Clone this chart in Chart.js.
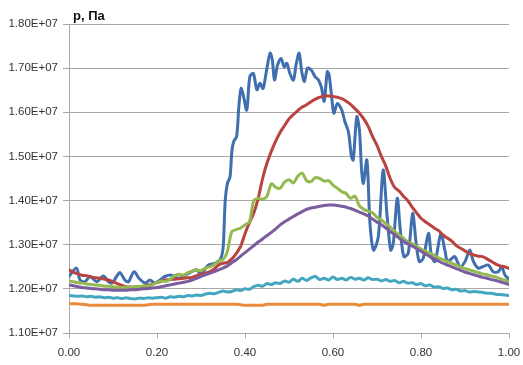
<!DOCTYPE html>
<html>
<head>
<meta charset="utf-8">
<script src="https://cdn.jsdelivr.net/npm/chart.js@4/dist/chart.umd.min.js"></script>
<style>
  html, body { margin: 0; padding: 0; background: #ffffff; }
  #wrap { width: 523px; height: 365px; position: relative; }
</style>
</head>
<body>
<div id="wrap"><canvas id="c" width="523" height="365"></canvas></div>
<script>
// Pressure profiles p (in units of 1E+06 Pa) along the relative coordinate 0..1
const axisTitle = "p, Па";
const xTickValues = [0, 0.2, 0.4, 0.6, 0.8, 1.0];
const yTickValues = [11, 12, 13, 14, 15, 16, 17, 18];

// Common grid for the smooth profiles, step 0.01
const gridX = Array.from({ length: 101 }, (_, i) => i / 100);

const redP = [
  12.43, 12.38, 12.34, 12.31, 12.30, 12.27, 12.25, 12.24, 12.22, 12.20,
  12.16, 12.12, 12.08, 12.05, 12.04, 12.04, 12.05, 12.06, 12.08, 12.11,
  12.14, 12.17, 12.20, 12.21, 12.22, 12.23, 12.24, 12.25, 12.26, 12.30,
  12.33, 12.36, 12.39, 12.45, 12.54, 12.58, 12.60, 12.68, 12.80, 12.96,
  13.25, 13.50, 13.72, 14.05, 14.50, 14.85, 15.12, 15.35, 15.55, 15.70,
  15.85, 15.95, 16.04, 16.12, 16.17, 16.24, 16.30, 16.34, 16.37, 16.37,
  16.36, 16.34, 16.31, 16.25, 16.18, 16.08, 15.98, 15.85, 15.68, 15.45,
  15.25, 15.00, 14.78, 14.50, 14.30, 14.22, 14.10, 14.00, 13.85, 13.72,
  13.60, 13.52, 13.45, 13.38, 13.32, 13.22, 13.15, 13.08, 12.98, 12.92,
  12.86, 12.80, 12.77, 12.74, 12.73, 12.68, 12.62, 12.56, 12.52, 12.50,
  12.46
];

const greenP = [
  12.18, 12.16, 12.14, 12.13, 12.11, 12.10, 12.09, 12.08, 12.06, 12.06,
  12.05, 12.04, 12.03, 12.04, 12.03, 12.05, 12.05, 12.07, 12.06, 12.10,
  12.14, 12.18, 12.17, 12.22, 12.30, 12.33, 12.31, 12.37, 12.40, 12.43,
  12.41, 12.47, 12.50, 12.55, 12.64, 12.66, 12.85, 13.30, 13.34, 13.38,
  13.45, 13.52, 14.00, 14.05, 14.03, 14.10, 14.38, 14.30, 14.28, 14.42,
  14.47, 14.40, 14.55, 14.62, 14.45, 14.43, 14.52, 14.50, 14.44, 14.45,
  14.35, 14.28, 14.20, 14.16, 14.05, 14.10, 13.88, 13.80, 13.76, 13.72,
  13.62, 13.56, 13.48, 13.40, 13.30, 13.22, 13.15, 13.06, 13.02, 12.96,
  12.90, 12.85, 12.81, 12.76, 12.70, 12.66, 12.62, 12.58, 12.54, 12.50,
  12.46, 12.43, 12.40, 12.37, 12.34, 12.32, 12.29, 12.27, 12.23, 12.20,
  12.16
];

const purpleP = [
  12.09, 12.07, 12.05, 12.03, 12.02, 12.01, 12.00, 11.99, 11.98, 11.98,
  11.97, 11.97, 11.97, 11.97, 11.98, 11.98, 11.99, 12.00, 12.01, 12.02,
  12.03, 12.05, 12.07, 12.09, 12.11, 12.13, 12.15, 12.17, 12.20, 12.24,
  12.28, 12.32, 12.35, 12.39, 12.43, 12.47, 12.52, 12.59, 12.66, 12.74,
  12.82, 12.90, 12.98, 13.06, 13.13, 13.21, 13.28, 13.36, 13.45, 13.52,
  13.58, 13.64, 13.70, 13.75, 13.80, 13.83, 13.85, 13.87, 13.89, 13.90,
  13.90, 13.89, 13.87, 13.85, 13.82, 13.78, 13.74, 13.70, 13.65, 13.58,
  13.51, 13.45, 13.38, 13.30, 13.23, 13.15, 13.08, 13.02, 12.97, 12.91,
  12.85, 12.79, 12.73, 12.68, 12.63, 12.58, 12.54, 12.50, 12.46, 12.42,
  12.38, 12.35, 12.32, 12.29, 12.26, 12.24, 12.21, 12.19, 12.16, 12.13,
  12.10
];

const tealP = [
  11.85, 11.84, 11.83, 11.84, 11.82, 11.83, 11.81, 11.82, 11.80, 11.81,
  11.79, 11.80, 11.78, 11.80, 11.78, 11.77, 11.79, 11.78, 11.80, 11.79,
  11.80, 11.81, 11.79, 11.82, 11.81, 11.83, 11.82, 11.85, 11.84, 11.86,
  11.85, 11.88, 11.90, 11.89, 11.92, 11.95, 11.93, 11.94, 11.98, 11.96,
  12.00, 11.99, 12.05, 12.08, 12.06, 12.12, 12.10, 12.14, 12.12, 12.18,
  12.15, 12.22, 12.17, 12.24, 12.19, 12.25, 12.28, 12.21, 12.24, 12.20,
  12.27, 12.21, 12.24, 12.20, 12.26, 12.22, 12.24, 12.20, 12.25, 12.21,
  12.22, 12.18, 12.21, 12.17, 12.19, 12.14, 12.17, 12.13, 12.14, 12.10,
  12.12, 12.07, 12.09, 12.04, 12.05, 12.01, 12.02, 11.98, 11.99, 11.95,
  11.96, 11.93, 11.94, 11.93, 11.92, 11.90, 11.90, 11.88, 11.87, 11.86,
  11.85
];

const orangeP = [
  11.66, 11.66, 11.66, 11.65, 11.64, 11.63, 11.63, 11.63, 11.63, 11.63,
  11.63, 11.63, 11.63, 11.63, 11.63, 11.63, 11.63, 11.63, 11.64, 11.65,
  11.65, 11.65, 11.65, 11.65, 11.65, 11.65, 11.65, 11.65, 11.65, 11.65,
  11.65, 11.65, 11.65, 11.65, 11.65, 11.65, 11.65, 11.65, 11.65, 11.64,
  11.63, 11.63, 11.63, 11.63, 11.63, 11.65, 11.65, 11.65, 11.65, 11.65,
  11.65, 11.65, 11.65, 11.65, 11.65, 11.65, 11.65, 11.65, 11.63, 11.65,
  11.65, 11.65, 11.65, 11.65, 11.65, 11.65, 11.63, 11.65, 11.65, 11.65,
  11.65, 11.65, 11.65, 11.65, 11.65, 11.65, 11.65, 11.65, 11.65, 11.65,
  11.65, 11.65, 11.65, 11.65, 11.65, 11.65, 11.65, 11.65, 11.65, 11.65,
  11.65, 11.65, 11.65, 11.65, 11.65, 11.65, 11.65, 11.65, 11.65, 11.65,
  11.65
];

// The strongly oscillating profile has its own, finer sampling
const blueX = [
  0.000, 0.017, 0.025, 0.036, 0.048, 0.063, 0.078, 0.090, 0.098, 0.108,
  0.116, 0.127, 0.135, 0.148, 0.159, 0.173, 0.184, 0.195, 0.207, 0.218,
  0.233, 0.248, 0.264, 0.279, 0.290, 0.300, 0.317, 0.332, 0.343, 0.350,
  0.355, 0.360, 0.366, 0.370, 0.374, 0.381, 0.386, 0.391, 0.396, 0.404,
  0.411, 0.419, 0.427, 0.434, 0.441, 0.449, 0.457, 0.462, 0.467, 0.474,
  0.482, 0.489, 0.495, 0.502, 0.510, 0.516, 0.523, 0.529, 0.535, 0.542,
  0.551, 0.559, 0.567, 0.574, 0.580, 0.587, 0.591, 0.597, 0.602, 0.610,
  0.620, 0.627, 0.635, 0.642, 0.646, 0.654, 0.660, 0.665, 0.669, 0.677,
  0.684, 0.692, 0.703, 0.714, 0.723, 0.731, 0.737, 0.746, 0.753, 0.761,
  0.771, 0.781, 0.789, 0.796, 0.805, 0.817, 0.824, 0.832, 0.845, 0.855,
  0.860, 0.870, 0.877, 0.889, 0.900, 0.911, 0.919, 0.930, 0.940, 0.953,
  0.964, 0.976, 0.983, 0.991, 1.000
];
const blueP = [
  12.28, 12.47, 12.20, 12.16, 12.28, 12.16, 12.29, 12.16, 12.13, 12.28,
  12.37, 12.20, 12.16, 12.39, 12.24, 12.13, 12.20, 12.13, 12.20, 12.28,
  12.31, 12.24, 12.31, 12.39, 12.43, 12.34, 12.54, 12.58, 12.65, 12.90,
  14.00, 14.39, 14.54, 15.10, 15.33, 15.45, 16.13, 16.54, 16.39, 16.05,
  16.81, 16.88, 16.51, 16.66, 16.54, 16.95, 17.34, 17.19, 16.73, 17.07,
  17.22, 17.03, 17.11, 16.88, 16.73, 17.07, 17.34, 16.92, 16.70, 17.00,
  16.95, 16.81, 16.73, 16.55, 16.25, 16.92, 16.85, 16.35, 15.98, 16.20,
  16.05, 15.79, 15.56, 15.00, 14.92, 15.90, 15.60, 14.69, 14.39, 14.92,
  13.49, 12.88, 13.18, 14.69, 13.64, 12.88, 13.03, 14.05, 13.33, 12.73,
  12.81, 13.71, 13.03, 12.62, 12.69, 13.26, 12.73, 12.62, 13.24, 12.84,
  12.62, 12.69, 12.73, 12.50, 12.62, 12.88, 12.62, 12.47, 12.50, 12.54,
  12.39, 12.39, 12.50, 12.31, 12.22
];

const MEGA = 1e6;
function pairs(xs, ys) {
  return xs.map((x, i) => ({ x: x, y: ys[i] * MEGA }));
}

function sci(v) {
  const e = Math.floor(Math.log10(Math.abs(v)));
  const m = v / Math.pow(10, e);
  return m.toFixed(2) + "E+" + String(e).padStart(2, "0");
}

const GRID = "#a8a8a8";
const TEXT = "#333333";
const FONT = "'Liberation Sans', Arial, sans-serif";

function lineSet(data, color) {
  return {
    data: data,
    borderColor: color,
    backgroundColor: color,
    borderWidth: 3,
    pointRadius: 0,
    tension: 0.3,
    fill: false,
    borderCapStyle: "round",
    borderJoinStyle: "round"
  };
}

const titlePlugin = {
  id: "axisTitle",
  afterDraw(chart) {
    const ctx = chart.ctx;
    const a = chart.chartArea;
    ctx.save();
    ctx.fillStyle = "#111111";
    ctx.font = "bold 13px " + FONT;
    ctx.textAlign = "left";
    ctx.textBaseline = "alphabetic";
    ctx.fillText(axisTitle, a.left + 4, a.top - 4);
    ctx.restore();
  }
};

new Chart(document.getElementById("c"), {
  type: "line",
  data: {
    datasets: [
      lineSet(pairs(gridX, orangeP), "#ea8b3c"),
      lineSet(pairs(gridX, tealP), "#44a7c0"),
      lineSet(pairs(gridX, purpleP), "#7b5c9e"),
      lineSet(pairs(gridX, greenP), "#93b94f"),
      lineSet(pairs(gridX, redP), "#b8433f"),
      lineSet(pairs(blueX, blueP), "#3f6fae")
    ]
  },
  options: {
    responsive: false,
    animation: false,
    layout: { padding: { top: 24, right: 14, bottom: 0, left: 0 } },
    plugins: { legend: { display: false }, tooltip: { enabled: false } },
    scales: {
      x: {
        type: "linear",
        min: 0,
        max: 1,
        afterFit(s) { s.height = 32; s.paddingLeft = 0; s.paddingRight = 0; },
        afterBuildTicks(s) { s.ticks = xTickValues.map(v => ({ value: v })); },
        ticks: {
          callback: v => Number(v).toFixed(2),
          color: TEXT,
          font: { family: FONT, size: 11.5 },
          padding: 8,
          maxRotation: 0
        },
        grid: { drawOnChartArea: false, drawTicks: true, tickLength: 5, color: GRID },
        border: { color: GRID, width: 1 }
      },
      y: {
        type: "linear",
        min: 11 * MEGA,
        max: 18 * MEGA,
        afterFit(s) { s.width = 69; s.paddingTop = 0; s.paddingBottom = 0; },
        afterBuildTicks(s) { s.ticks = yTickValues.map(v => ({ value: v * MEGA })); },
        ticks: {
          callback: v => sci(v),
          color: TEXT,
          font: { family: FONT, size: 11.5 },
          padding: 5
        },
        grid: { color: GRID, tickLength: 6, lineWidth: 1 },
        border: { color: GRID, width: 1 }
      }
    }
  },
  plugins: [titlePlugin]
});
</script>
</body>
</html>
